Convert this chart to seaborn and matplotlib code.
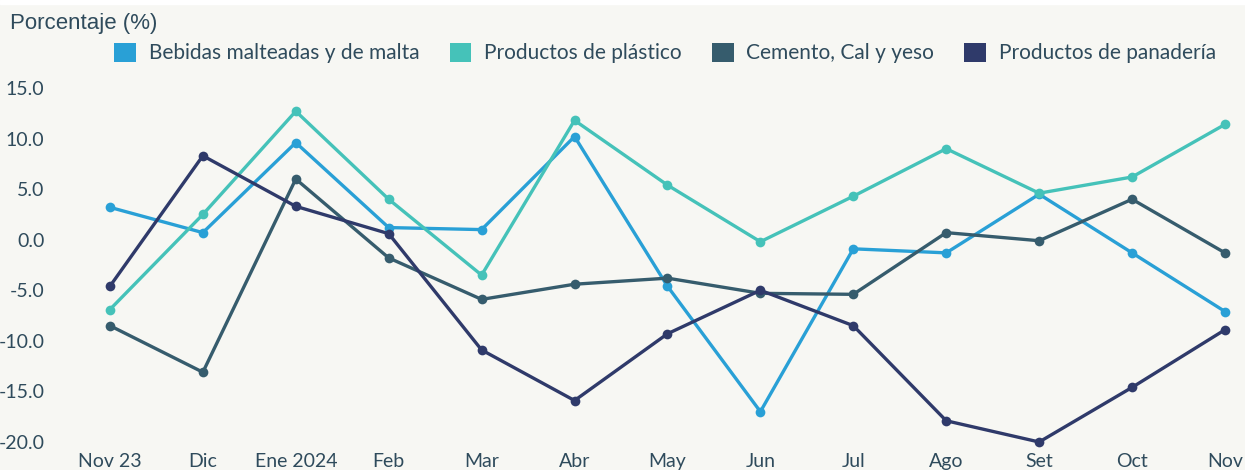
import numpy as np
import pandas as pd
import matplotlib.pyplot as plt
import seaborn as sns
from matplotlib.patches import Patch, Rectangle

months = ["Nov 23", "Dic", "Ene 2024", "Feb", "Mar", "Abr", "May", "Jun",
          "Jul", "Ago", "Set", "Oct", "Nov"]
bebidas = [3.2, 0.7, 9.6, 1.2, 1.0, 10.2, -4.6, -17.0, -0.9, -1.3, 4.5, -1.3, -7.1]
plastico = [-6.9, 2.5, 12.7, 4.0, -3.5, 11.8, 5.4, -0.2, 4.3, 9.0, 4.6, 6.2, 11.4]
cemento = [-8.5, -13.1, 6.0, -1.8, -5.9, -4.4, -3.8, -5.3, -5.4, 0.7, -0.1, 4.0, -1.3]
panaderia = [-4.6, 8.3, 3.3, 0.6, -10.9, -15.9, -9.3, -5.0, -8.5, -17.9, -20.0, -14.6, -8.9]

series = {
    "Bebidas malteadas y de malta": bebidas,
    "Productos de plástico": plastico,
    "Cemento, Cal y yeso": cemento,
    "Productos de panadería": panaderia,
}
colors = ["#29a0d6", "#45c2b9", "#365c6d", "#2f3a6a"]
txt = "#2f4b5c"
bg = "#f7f7f3"

df = pd.concat([pd.DataFrame({"pos": np.arange(len(months)), "valor": v, "serie": k})
                for k, v in series.items()])

sns.set_theme(style="white")
plt.rcParams["font.family"] = ["Lato", "DejaVu Sans"]

fig = plt.figure(figsize=(12.45, 4.70), dpi=100, facecolor=bg)
fig.patches.append(Rectangle((0, 1 - 4 / 470), 1, 4 / 470, transform=fig.transFigure,
                             color="white", zorder=0))
ax = fig.add_axes([50 / 1245, 1 - 442 / 470, (1225 - 50) / 1245, (442 - 88) / 470])
ax.set_facecolor(bg)

sns.lineplot(data=df, x="pos", y="valor", hue="serie", palette=colors, ax=ax,
             marker="o", markersize=7, markeredgewidth=0, linewidth=2.4,
             sort=False, legend=False, clip_on=False)

ax.set_xlim(-0.645, 12)
ax.set_ylim(-20, 15)
ax.set_yticks(np.arange(-20, 16, 5))
ax.set_yticklabels([f"{t:.1f}" for t in np.arange(-20, 16, 5)])
ax.set_xticks(range(len(months)))
ax.set_xticklabels(months)
ax.tick_params(axis="both", length=0, labelsize=14, colors=txt)
ax.tick_params(axis="y", pad=4)
ax.tick_params(axis="x", pad=8)
ax.set_xlabel("")
ax.set_ylabel("")
sns.despine(ax=ax, left=True, bottom=True)

fig.text(10 / 1245, 1 - 23 / 470, "Porcentaje (%)", fontsize=16, color=txt,
         va="center", ha="left", family=["Liberation Sans", "DejaVu Sans"])

handles = [Patch(facecolor=c, edgecolor="none") for c in colors]
fig.legend(handles, list(series.keys()), loc="center", ncol=4,
           bbox_to_anchor=(665 / 1245, 1 - 53 / 470), frameon=False,
           fontsize=15, labelcolor=txt, handlelength=1.05, handleheight=1.05,
           handletextpad=0.6, columnspacing=1.45)

fig.savefig("out.png", dpi=100, facecolor=bg)
